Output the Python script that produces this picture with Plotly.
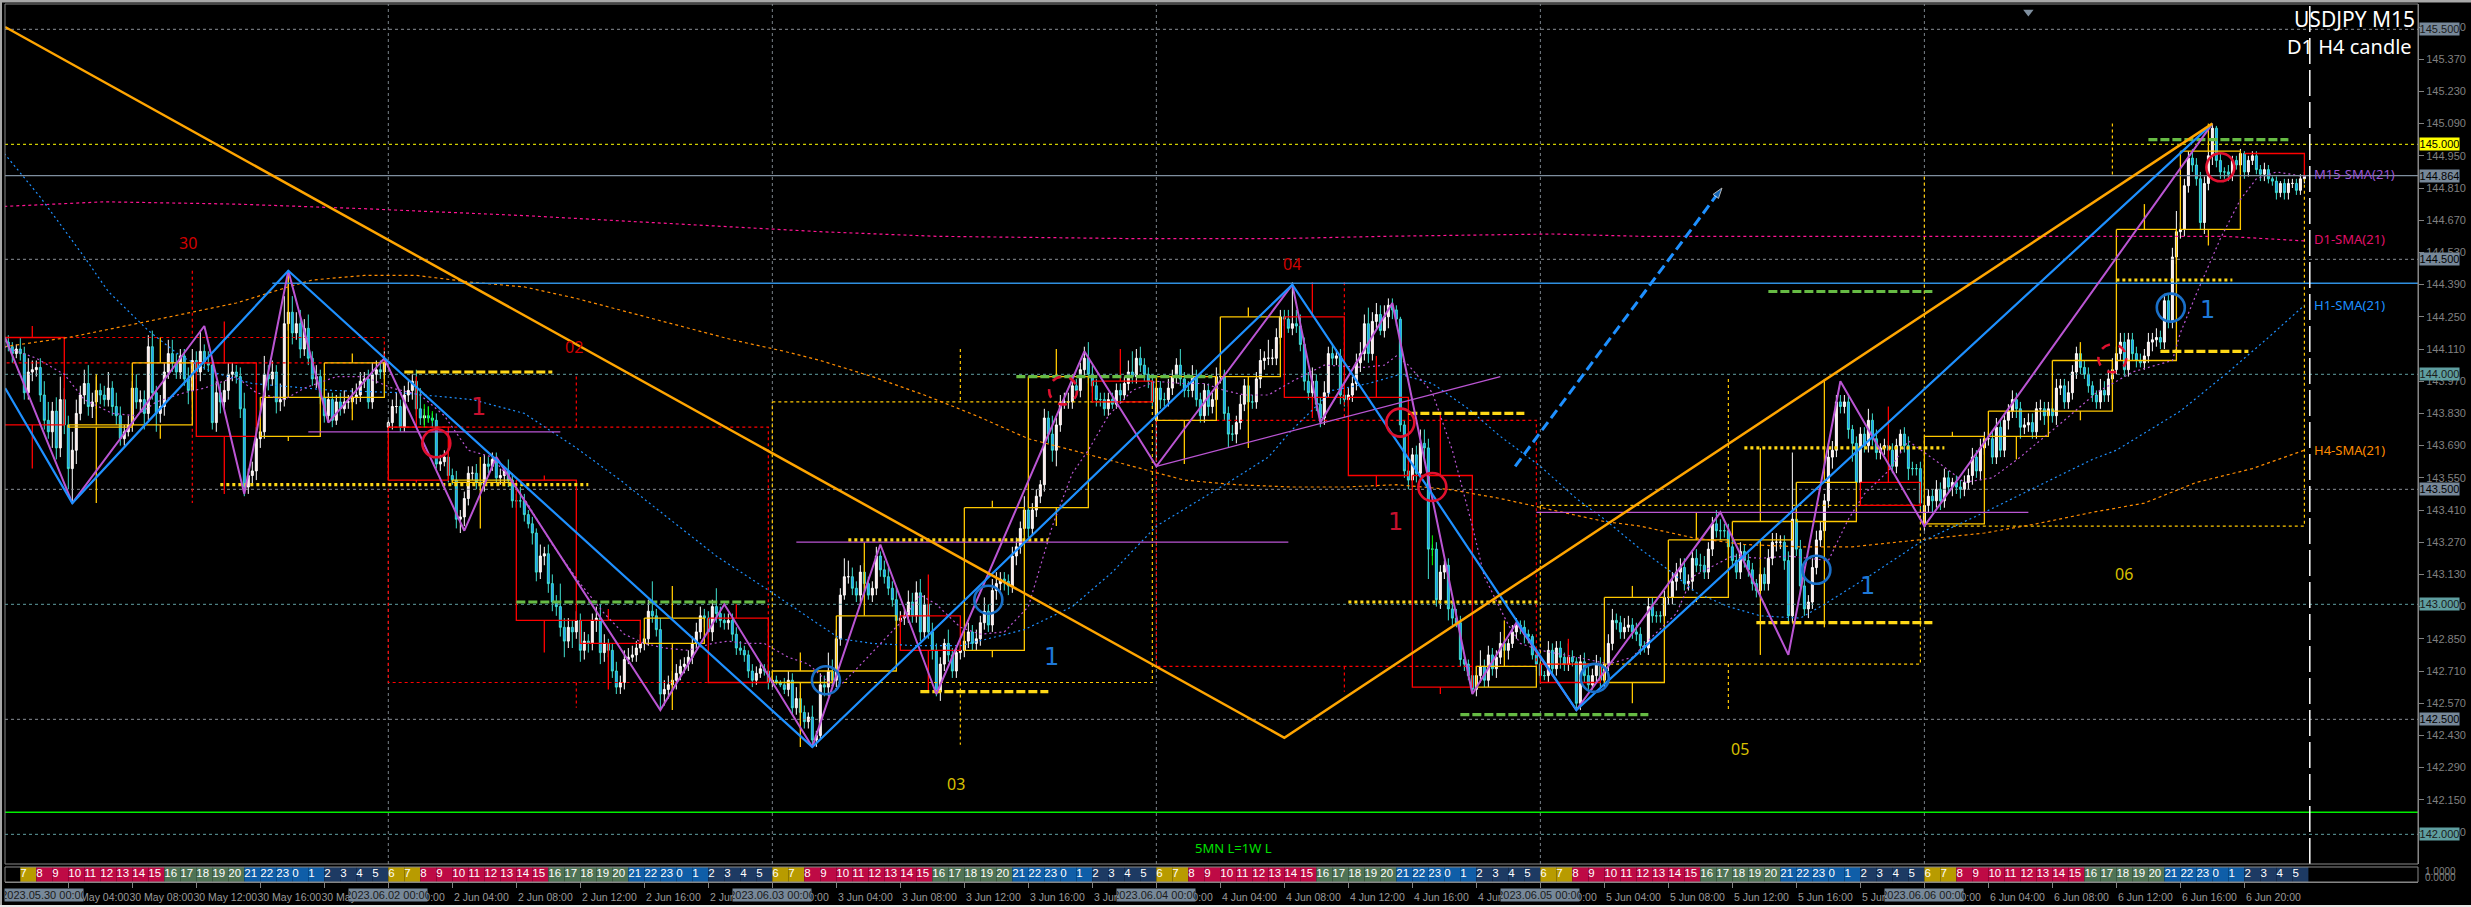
import plotly.graph_objects as go

# ---------- candle data (pips = price x 100) ----------
CLOSE_PIPS = [
14414,14412,14409,14411,14409,14392,14401,14402,14403,14391,14380,14375,14384,14368,14389,14378,
14359,14367,14383,14391,14396,14386,14388,14393,14391,14389,14394,14386,14382,14372,14375,14378,
14394,14388,14389,14383,14412,14392,14383,14386,14401,14409,14405,14401,14408,14398,14393,14406,
14401,14410,14405,14404,14379,14392,14388,14393,14400,14401,14399,14385,14351,14356,14358,14372,
14375,14400,14398,14401,14388,14389,14422,14427,14418,14422,14411,14420,14407,14398,14399,14390,
14382,14389,14380,14388,14385,14388,14388,14390,14391,14397,14398,14388,14400,14402,14401,14405,
14379,14386,14386,14377,14391,14393,14397,14385,14381,14382,14381,14380,14361,14362,14364,14356,
14354,14337,14338,14346,14357,14357,14353,14352,14361,14360,14363,14355,14356,14358,14354,14345,
14345,14345,14339,14335,14331,14314,14321,14322,14309,14301,14299,14290,14284,14290,14288,14293,
14280,14284,14283,14293,14294,14279,14283,14280,14271,14264,14266,14276,14277,14278,14281,14283,
14285,14297,14295,14289,14261,14263,14265,14267,14270,14273,14274,14277,14283,14288,14295,14294,
14288,14299,14296,14293,14292,14293,14287,14281,14280,14278,14271,14267,14270,14272,14271,14266,
14267,14266,14265,14263,14267,14255,14259,14253,14249,14251,14241,14243,14265,14264,14271,14267,
14285,14304,14312,14312,14307,14304,14314,14309,14304,14307,14321,14315,14312,14307,14302,14293,
14294,14295,14301,14295,14305,14288,14300,14288,14280,14262,14274,14283,14278,14271,14279,14280,
14284,14288,14283,14285,14292,14297,14291,14306,14309,14311,14310,14308,14321,14325,14333,14341,
14333,14341,14347,14352,14381,14374,14367,14378,14388,14388,14388,14395,14393,14402,14407,14400,
14395,14389,14389,14385,14389,14387,14393,14391,14396,14401,14399,14407,14404,14400,14397,14388,
14394,14389,14389,14394,14399,14404,14398,14393,14393,14399,14389,14382,14393,14386,14389,14399,
14399,14383,14374,14374,14379,14387,14395,14388,14388,14398,14406,14407,14407,14407,14416,14425,
14424,14420,14422,14421,14413,14397,14392,14397,14387,14381,14392,14409,14407,14408,14391,14389,
14391,14396,14405,14409,14422,14409,14423,14426,14419,14425,14430,14428,14424,14378,14358,14354,
14365,14357,14370,14368,14324,14324,14302,14314,14317,14298,14294,14292,14276,14274,14269,14263,
14269,14273,14267,14278,14272,14277,14283,14280,14283,14288,14291,14290,14287,14286,14278,14274,
14269,14269,14280,14272,14281,14277,14274,14277,14275,14257,14275,14269,14265,14269,14274,14267,
14274,14283,14293,14292,14288,14290,14291,14288,14287,14282,14281,14299,14295,14295,14295,14303,
14303,14310,14314,14316,14309,14310,14320,14317,14317,14314,14324,14335,14332,14332,14332,14325,
14319,14314,14323,14319,14315,14309,14306,14313,14309,14320,14327,14327,14327,14319,14295,14337,
14324,14308,14298,14301,14316,14328,14332,14345,14364,14367,14388,14386,14388,14376,14370,14353,
14374,14369,14380,14372,14366,14368,14369,14367,14360,14369,14374,14369,14359,14359,14359,14344,
14343,14347,14345,14350,14345,14355,14351,14353,14351,14350,14353,14356,14364,14358,14368,14372,
14372,14364,14377,14367,14380,14384,14389,14385,14377,14378,14379,14375,14385,14385,14382,14385,
14382,14394,14395,14388,14392,14401,14409,14403,14400,14395,14391,14388,14393,14391,14398,14402,
14409,14414,14402,14415,14409,14406,14405,14408,14414,14415,14416,14414,14432,14423,14451,14462,
14463,14482,14494,14491,14485,14466,14483,14495,14507,14493,14488,14488,14487,14493,14491,14496,
14488,14493,14495,14489,14487,14489,14485,14484,14479,14483,14479,14483,14483,14480,14485,14486]
OPEN_GAPS = {0: 14416, 96: 14377, 288: 14380, 480: 14335}
UPPER_WICK = [
2,3,2,2,5,3,6,4,3,4,6,8,4,6,10,5, 4,8,6,4,6,8,4,6,3,4,7,3,6,4,3,4,
3,6,4,4,5,7,3,5,4,6,6,4,3,3,5,5, 4,9,3,5,3,5,4,4,5,4,3,4,7,3,4,5,
4,8,4,5,3,7,12,18,7,5,6,4,6,3,5,3, 4,3,3,3,4,5,3,4,5,4,3,4,5,4,4,5,
1,3,6,3,4,4,3,5,9,3,4,2,3,3,3,4, 3,4,3,3,3,3,4,4,4,3,3,3,3,2,5,3,
3,6,3,2,3,2,5,3,4,4,3,10,4,4,3,4, 3,4,3,3,5,6,4,2,3,4,3,4,4,4,3,4,
4,5,13,3,5,4,4,4,4,3,3,3,3,4,4,3, 3,3,8,3,3,3,3,3,3,2,2,3,3,2,2,3,
2,2,1,3,4,3,5,3,3,2,5,2,5,4,8,5, 4,3,8,7,4,3,3,4,3,3,4,2,4,4,3,6,
3,3,5,4,5,6,4,3,4,3,3,2,6,3,2,3, 3,4,3,4,3,6,3,5,5,3,3,3,4,4,3,6,
4,3,3,2,4,3,8,3,3,4,4,5,3,3,5,7, 4,3,3,3,3,3,3,3,3,5,9,4,5,3,3,3,
1,3,3,4,3,3,7,3,4,5,3,3,3,3,3,4, 6,3,3,4,3,4,3,3,3,3,5,3,8,4,4,3,
3,4,18,6,5,3,4,6,3,3,5,3,4,3,3,3, 3,3,4,5,4,7,4,5,4,5,3,3,2,1,2,3,
3,4,6,6,4,2,3,3,2,3,3,4,3,2,2,2, 4,7,3,4,3,3,5,3,2,3,3,2,3,2,1,2,
2,2,4,3,3,3,2,6,3,2,3,4,4,3,4,3, 2,4,5,3,3,4,4,3,4,3,2,4,4,2,2,3,
3,4,4,4,4,3,3,4,5,4,3,3,6,5,3,3, 3,3,4,3,3,3,2,3,3,4,4,4,3,3,4,29,
16,4,5,3,4,4,4,3,6,4,3,3,3,3,2,3, 3,3,5,3,4,2,3,2,3,3,2,3,4,3,2,3,
1,3,3,4,3,4,3,2,3,3,3,3,4,3,4,3, 3,3,4,3,3,3,4,3,3,3,4,4,3,4,3,3,
3,4,3,3,5,3,3,4,3,3,2,2,5,4,4,5, 3,4,4,3,3,3,3,3,4,3,4,3,3,3,4,9,
3,3,3,4,3,3,3,4,2,1,3,2,3,2,2,2, 1,2,2,2,2,3,2,1,2,1,2,2,2,2,2,2]
LOWER_WICK = [
3,2,4,2,3,3,3,4,3,3,4,3,7,5,4,4, 9,15,6,3,4,4,5,3,4,3,3,4,4,3,3,2,
3,3,4,7,3,3,8,4,4,3,4,3,3,3,6,4, 3,4,3,3,3,4,5,3,4,3,3,4,4,3,4,4,
4,3,5,3,5,4,3,3,5,3,4,3,3,3,4,3, 3,3,3,2,3,2,3,3,3,3,3,3,3,4,3,3,
3,3,3,2,2,3,4,3,3,3,2,3,2,3,2,3, 2,4,6,4,3,3,3,2,3,3,2,2,3,3,3,3,
3,3,3,2,5,4,3,4,4,4,4,4,7,3,7,3, 5,4,4,3,5,5,4,3,3,3,3,3,2,2,3,2,
3,3,3,3,7,5,4,4,4,3,3,3,3,2,3,4, 3,4,4,3,3,3,3,3,2,3,3,3,2,2,2,3,
2,1,1,2,3,3,3,3,3,3,3,3,2,4,4,3, 3,3,2,3,3,3,3,3,2,3,3,3,3,3,3,3,
3,3,3,3,3,4,3,3,4,2,4,3,3,3,3,3, 3,3,3,3,3,3,3,3,4,3,4,4,3,4,3,3,
4,3,3,3,3,4,5,7,3,3,3,3,3,3,3,4, 3,3,3,3,3,2,2,3,2,3,3,3,3,3,3,3,
18,4,3,3,3,3,3,3,3,3,3,3,3,4,3,3, 3,3,6,3,4,3,3,3,3,3,4,4,3,3,3,3,
3,2,3,3,3,4,3,2,3,4,3,2,3,3,4,3, 3,3,3,4,3,4,3,3,2,3,5,4,3,3,3,4,
3,4,3,4,13,3,3,4,3,5,3,2,3,3,2,2, 3,3,3,3,3,4,3,3,4,2,3,3,4,3,2,3,
3,2,3,3,3,5,3,3,2,3,3,3,3,2,3,3, 3,3,3,3,3,3,2,3,3,4,2,3,3,3,3,3,
3,3,4,3,3,3,4,3,3,3,3,3,3,4,3,3, 3,3,3,3,3,3,3,3,3,3,3,4,3,4,3,3,
3,3,3,4,3,3,3,3,3,5,3,3,3,4,8,3, 3,3,3,3,3,3,3,3,3,3,3,3,5,3,3,3,
3,3,5,3,4,3,3,4,3,4,3,3,4,3,4,3, 3,3,3,3,3,4,3,4,5,3,3,3,3,5,4,3,
3,4,3,3,3,3,3,3,2,3,3,3,3,3,3,3, 2,3,3,3,3,3,2,3,3,4,3,3,3,3,3,3,
3,3,3,3,3,3,5,3,4,3,3,3,3,3,2,3, 3,2,2,2,3,3,2,2,3,2,3,3,2,2,2,2]

# ---------- zigzags and trend line (bar, pips) ----------
ORANGE_BAR = [0.2, 320, 552]
ORANGE_PIP = [14551, 14242, 14509]
BLUE_BAR = [0.2, 17, 71, 202, 322, 393, 552]
BLUE_PIP = [14394, 14344, 14445, 14238, 14439, 14254, 14509]
PURPLE_BAR = [0.2,17,50,60,71,81,95,115,123,164,180,202,219,233,270,288,322,329,347,367,378,393,429,446,459,480,552]
PURPLE_PIP = [14416,14344,14421,14348,14445,14379,14407,14332,14364,14254,14300,14238,14326,14261,14410,14360,14439,14379,14431,14261,14292,14254,14340,14278,14397,14334,14509]

# ---------- moving averages (bar, pips) ----------
M15_BAR = [0,8,15,20,27,33,38,45,50,58,63,70,75,83,90,97,104,110,116,122,130,137,144,150,155,160,165,171,177,181,185,190,196,201,208,212,218,224,229,233,239,244,250,256,262,267,271,276,282,288,294,300,305,310,316,322,330,340,345,348,351,357,362,367,370,376,379,384,390,396,401,407,412,418,422,432,439,446,456,461,465,471,476,484,490,497,504,506,515,523,532,542,544,548,554,559,563,568,575]
M15_PIP = [14412,14407,14400,14389,14383,14382,14388,14392,14394,14399,14392,14389,14394,14399,14399,14394,14391,14382,14367,14364,14346,14326,14309,14296,14287,14283,14281,14280,14283,14284,14283,14283,14277,14274,14263,14270,14281,14292,14304,14300,14290,14287,14288,14299,14334,14357,14367,14382,14393,14397,14396,14396,14393,14391,14391,14397,14404,14403,14404,14408,14404,14392,14367,14334,14312,14291,14283,14280,14278,14276,14274,14277,14286,14296,14312,14321,14320,14321,14319,14337,14348,14358,14371,14361,14353,14355,14364,14367,14380,14392,14401,14406,14418,14435,14459,14476,14485,14488,14486]
H1_BAR = [0,9,20,26,36,44,52,62,82,99,117,130,143,154,178,192,203,209,217,228,239,255,267,277,288,306,316,322,332,341,349,357,366,374,384,393,400,409,416,423,431,439,449,455,466,479,495,508,522,528,544,556,566,575]
H1_PIP = [14496,14477,14451,14436,14419,14408,14401,14396,14393,14392,14389,14383,14368,14354,14321,14305,14292,14285,14283,14282,14282,14289,14299,14314,14334,14353,14364,14376,14393,14396,14400,14396,14385,14373,14360,14346,14337,14324,14315,14305,14299,14295,14294,14300,14312,14327,14340,14351,14363,14367,14384,14401,14416,14430]
H4_BAR = [0,16,33,47,58,71,77,90,103,117,130,143,156,169,182,195,204,217,230,243,256,267,282,295,308,322,335,348,361,374,387,400,409,422,435,449,462,479,495,508,522,535,548,562,575]
H4_PIP = [14412,14416,14422,14427,14431,14438,14441,14443,14443,14440,14438,14433,14427,14421,14415,14410,14406,14399,14391,14382,14372,14367,14360,14354,14352,14351,14351,14352,14350,14346,14341,14336,14334,14329,14326,14325,14325,14328,14331,14335,14340,14344,14353,14359,14367]
D1_BAR = [0,12,25,58,90,130,162,204,233,282,319,345,387,409,489,528,555,575]
D1_PIP = [14473,14474,14475,14474,14472,14469,14466,14462,14460,14459,14459,14460,14461,14460,14460,14460,14460,14458]

# ---------- candle boxes: bar_start, bar_end, top, bottom, wick_bar, wick_high, wick_low ----------
H4_RED = [
(0,15,14416,14378,7,14421,14359),(48,63,14405,14373,55,14423,14348),(96,111,14377,14354,103,14399,14353),
(128,143,14354,14293,135,14356,14279),(144,159,14293,14283,151,14298,14263),(176,191,14294,14266,183,14300,14266),
(224,239,14295,14280,231,14313,14262),(272,287,14397,14388,279,14411,14388),(320,335,14425,14390,327,14440,14381),
(336,351,14390,14356,343,14408,14351),(352,367,14356,14264,359,14383,14261),(384,399,14274,14266,391,14285,14266),
(464,479,14353,14343,471,14386,14343)]
H4_YELLOW = [
(16,32,14378,14377,23,14400,14344),(32,47,14405,14378,39,14416,14372),(64,79,14390,14373,71,14445,14371),
(80,95,14405,14390,87,14409,14380),(112,127,14354,14353,119,14364,14333),(160,175,14294,14283,167,14308,14254),
(192,207,14271,14266,199,14279,14238),(208,223,14295,14271,215,14327,14271),(240,255,14342,14280,247,14345,14277),
(256,271,14399,14342,263,14411,14334),(288,303,14399,14380,295,14399,14361),(304,319,14425,14399,311,14429,14368),
(368,383,14273,14264,375,14293,14264),(400,415,14303,14266,407,14308,14257),(416,431,14328,14303,423,14340,14301),
(432,447,14336,14328,439,14368,14278),(448,463,14353,14336,455,14398,14290),(480,495,14373,14335,487,14375,14335),
(496,511,14384,14373,503,14384,14363),(512,527,14406,14384,519,14414,14380),(528,543,14463,14406,535,14474,14406),
(544,559,14497,14463,551,14509,14456)]
D1_RED = [(0,95,14416,14405,47,14445,14344),(96,191,14377,14266,143,14399,14255),(288,383,14380,14273,335,14440,14262)]
D1_YELLOW = [(192,287,14388,14266,239,14411,14239),(384,479,14343,14274,431,14398,14254)]
# the last day and last 4-hour candle are still forming: no closed top / bottom side
D1_LAST = (480,575,14486,14334,527,14509)
H4_LAST = (560,575,14496,14486)

# ---------- horizontal levels ----------
LEVEL_GRAY = [145.5, 144.5, 143.5, 142.5]
LEVEL_TEAL = [144.0, 143.0, 142.0]
LEVEL_YELLOW = 145.0
LEVEL_BID = 144.864
LEVEL_GREEN = 142.096
LEVEL_BLUE = (67, 144.396)
# thick support / resistance marks: bar_start, bar_end, pips
THICK_YELLOW_DASH = [(100,137,14401),(229,261,14262),(351,380,14383),(438,482,14292),(539,561,14410)]
THICK_YELLOW_DOT = [(54,146,14352),(211,261,14328),(336,384,14301),(435,485,14368),(528,557,14441)]
THICK_GREEN = [(128,191,14301),(253,302,14399),(364,411,14252),(441,482,14436),(536,571,14502)]
PURPLE_SEGMENTS = [(76,139,14375,14375),(198,321,14327,14327),(288,374,14360,14399),(383,506,14340,14340)]
DAY_BARS = [96,192,288,384,480]
END_BAR = 576.35
ARROW_BAR = [377.7, 429.4]
ARROW_PIP = [14360, 14481]
CIRCLES_RED = [(108,14370,False),(264.7,14393,True),(349,14379,False),(357,14351,False),(527,14407,True),(554,14490,False)]
CIRCLES_BLUE = [(205.4,14267,False),(246,14302,False),(397.6,14268,False),(453,14315,False),(541.6,14429,False)]
GREEN_WICKS = [(105,14387,14377),(106,14386,14379),(107,14384,14379),(357,14330,14317)]

# ---------- texts ----------
Y_TICKS = [145.51,145.37,145.23,145.09,144.95,144.81,144.67,144.53,144.39,144.25,144.11,143.97,143.83,143.69,143.55,143.41,143.27,143.13,142.99,142.85,142.71,142.57,142.43,142.29,142.15,142.01]
DAYS = ["30 May","2 Jun","3 Jun","4 Jun","5 Jun","6 Jun"]
TICK_HOURS = ["00:00","04:00","08:00","12:00","16:00","20:00"]
DATE_TAGS = ["2023.05.30 00:00","2023.06.02 00:00","2023.06.03 00:00","2023.06.04 00:00","2023.06.05 00:00","2023.06.06 00:00"]
HOURS_OF_DAY = [6,7,8,9,10,11,12,13,14,15,16,17,18,19,20,21,22,23,0,1,2,3,4,5]
DAY_COUNT = 6
HOUR_COLOR = {6:"#b89b00",7:"#b89b00",8:"#be0a45",9:"#be0a45",10:"#be0a45",11:"#be0a45",12:"#be0a45",13:"#be0a45",14:"#be0a45",15:"#be0a45",
              16:"#4f7355",17:"#4f7355",18:"#4f7355",19:"#4f7355",20:"#4f7355",21:"#0f5ea8",22:"#0f5ea8",23:"#0f5ea8",0:"#0f5ea8",1:"#0f5ea8",
              2:"#1d3a63",3:"#1d3a63",4:"#1d3a63",5:"#1d3a63"}

W, H = 2471, 907
FONT = "Noto Sans"
NARROW = "Liberation Sans Narrow, Liberation Sans"
RED, GOLD = "#ff0000", "#ffc800"
YTOP, YBOT = 145.61, 141.871
XL, XR = 0.175, 603.4
p = lambda v: v / 100.0
px = lambda x: x / W
py = lambda y: 1 - y / H

fig = go.Figure()

def line(x, y, color, width=1, dash="solid", yaxis="y", **kw):
    fig.add_trace(go.Scatter(x=x, y=y, mode="lines", yaxis=yaxis, hoverinfo="skip", showlegend=False,
                             line=dict(color=color, width=width, dash=dash), **kw))

# grid and levels
for lv in LEVEL_GRAY:
    line([XL, XR], [lv, lv], "#8a8f96", 1, "3px,3px")
for lv in LEVEL_TEAL:
    line([XL, XR], [lv, lv], "#5f9ea0", 1, "3px,3px")
line([XL, XR], [LEVEL_YELLOW]*2, "#ffff00", 1, "3px,3px")
for d in DAY_BARS:
    line([d, d], [YBOT, YTOP], "#7a828a", 1, "3px,3px")

def box_paths(boxes):
    xs, ys = [], []
    for b0, b1, top, bot, wb, wh, wl in boxes:
        xs += [b0, b1, b1, b0, b0, None, wb, wb, None, wb, wb, None]
        ys += [p(top), p(top), p(bot), p(bot), p(top), None, p(wh), p(top), None, p(bot), p(wl), None]
    return xs, ys

for boxes, c, w, d in [(D1_RED, RED, 1.2, "3px,3px"), (D1_YELLOW, GOLD, 1.2, "3px,3px"),
                       (H4_RED, RED, 1.3, "solid"), (H4_YELLOW, GOLD, 1.3, "solid")]:
    xs, ys = box_paths(boxes)
    line(xs, ys, c, w, d)
# forming candles
b0, b1, top, bot, wb, wh = D1_LAST
line([b0, b0, b1, b1, None, wb, wb], [p(top), p(bot), p(bot), p(top), None, p(wh), p(top)], GOLD, 1.2, "3px,3px")
b0, b1, top, bot = H4_LAST
line([b0, b1, b1], [p(top), p(top), p(bot)], RED, 1.3)

# moving averages
line(H4_BAR, [p(v) for v in H4_PIP], "#ff8c00", 1.2, "3px,3px")
line(D1_BAR, [p(v) for v in D1_PIP], "#ff1493", 1.2, "3px,3px")
line(H1_BAR, [p(v) for v in H1_PIP], "#1e90ff", 1.2, "2px,3px")
line(M15_BAR, [p(v) for v in M15_PIP], "#ba55d3", 1.2, "2px,3px")

# candles
bars = list(range(len(CLOSE_PIPS)))
opens = [OPEN_GAPS.get(i, CLOSE_PIPS[i-1] if i else CLOSE_PIPS[0]) for i in bars]
highs = [max(o, c) + u for o, c, u in zip(opens, CLOSE_PIPS, UPPER_WICK)]
lows = [min(o, c) - l for o, c, l in zip(opens, CLOSE_PIPS, LOWER_WICK)]
fig.add_trace(go.Candlestick(x=bars, open=[p(v) for v in opens], high=[p(v) for v in highs],
                             low=[p(v) for v in lows], close=[p(v) for v in CLOSE_PIPS],
                             increasing=dict(line=dict(color="#ffffff", width=1), fillcolor="#ffe4e1"),
                             decreasing=dict(line=dict(color="#40e0d0", width=1), fillcolor="#1e90ff"),
                             whiskerwidth=0, showlegend=False, hoverinfo="skip"))
gx, gy = [], []
for b, hi, lo in GREEN_WICKS:
    gx += [b, b, None]; gy += [p(hi), p(lo), None]
line(gx, gy, "#00ff00", 1)

# horizontal price lines
line([XL, XR], [LEVEL_BID]*2, "#7f8f9f", 1.3)
line([LEVEL_BLUE[0], XR], [LEVEL_BLUE[1]]*2, "#2f8fe0", 1.3)
line([XL, XR], [LEVEL_GREEN]*2, "#00ee00", 1.5)

# purple thin segments
xs, ys = [], []
for b0, b1, v0, v1 in PURPLE_SEGMENTS:
    xs += [b0, b1, None]; ys += [p(v0), p(v1), None]
line(xs, ys, "#ba55d3", 1.3)

# thick marks
def thick(marks, color, dash):
    xs, ys = [], []
    for b0, b1, v in marks:
        xs += [b0, b1, None]; ys += [p(v), p(v), None]
    line(xs, ys, color, 3.2, dash)
thick(THICK_GREEN, "#66bb44", "9px,3px")
thick(THICK_YELLOW_DASH, "#ffd816", "9px,3px")
thick(THICK_YELLOW_DOT, "#ffd816", "3px,3px")

# zigzags
line(PURPLE_BAR, [p(v) for v in PURPLE_PIP], "#ba55d3", 2)
line(BLUE_BAR, [p(v) for v in BLUE_PIP], "#1e90ff", 2.2)
line(ORANGE_BAR, [p(v) for v in ORANGE_PIP], "#ffa500", 2.5)

# arrow
fig.add_trace(go.Scatter(x=ARROW_BAR, y=[p(v) for v in ARROW_PIP], mode="lines+markers", hoverinfo="skip", showlegend=False,
                         line=dict(color="#1e90ff", width=3, dash="10px,5px"),
                         marker=dict(symbol="arrow", size=[0, 11], angleref="previous", color="#1e90ff")))
# end-of-data marker
line([END_BAR, END_BAR], [YBOT, YTOP], "#ffffff", 1.5, "26px,6px")
# shift marker
fig.add_trace(go.Scatter(x=[506], y=[145.575], mode="markers", hoverinfo="skip", showlegend=False,
                         marker=dict(symbol="triangle-down", size=9, color="#7f8f9f")))

# hour strip
hours = [h for _ in range(DAY_COUNT) for h in HOURS_OF_DAY]
starts = [i*4 for i in range(len(hours))]
colors = ["#000000"] + [HOUR_COLOR[h] for h in hours[1:]]
fig.add_trace(go.Bar(x=[s+2 for s in starts], y=[1]*len(hours), width=[4]*len(hours), marker=dict(color=colors, line=dict(width=0)),
                     yaxis="y2", hoverinfo="skip", showlegend=False))
fig.add_trace(go.Scatter(x=starts[1:], y=[0.5]*(len(hours)-1), mode="text", text=[str(h) for h in hours[1:]], textposition="middle right",
                         textfont=dict(color="#ffffff", size=11.5, family=NARROW), yaxis="y2", hoverinfo="skip", showlegend=False))

shapes = []
for lst, c in [(CIRCLES_RED, "#e0102f"), (CIRCLES_BLUE, "#1a70c8")]:
    for b, v, dashed in lst:
        shapes.append(dict(type="circle", xref="x", yref="y", xsizemode="pixel", ysizemode="pixel", xanchor=b, yanchor=p(v),
                           x0=-14, x1=14, y0=-14, y1=14, line=dict(color=c, width=2.6, dash="dash" if dashed else "solid")))
# window frame
frame = "#8a8a8a"
shapes += [
    dict(type="rect", xref="paper", yref="paper", x0=0, x1=1, y0=py(2.5), y1=1, fillcolor="#a8a8a8", line_width=0),
    dict(type="rect", xref="paper", yref="paper", x0=0, x1=px(2), y0=0, y1=1, fillcolor="#a8a8a8", line_width=0),
    dict(type="rect", xref="paper", yref="paper", x0=0, x1=1, y0=0, y1=py(905), fillcolor="#e8e8e8", line_width=0),
    dict(type="rect", xref="paper", yref="paper", x0=px(5), x1=px(2418), y0=py(864), y1=py(4), line=dict(color=frame, width=1)),
    dict(type="rect", xref="paper", yref="paper", x0=px(5), x1=px(2418), y0=py(882), y1=py(867), line=dict(color=frame, width=1)),
]

ann = []
def text(s, bar, pips, color, size, family=FONT, **kw):
    ann.append(dict(text=s, x=bar, y=p(pips), xref="x", yref="y", showarrow=False, font=dict(color=color, size=size, family=family), **kw))
for s, b, v in [("30", 46, 14457), ("02", 142.5, 14412), ("04", 322, 14448)]:
    text(s, b, v, "#d00000", 16)
for s, b, v in [("03", 238, 14222), ("05", 434, 14237), ("06", 530, 14313)]:
    text(s, b, v, "#d8c000", 16)
for b, v in [(118.5, 14386), (347.7, 14336)]:
    text("1", b, v, "#c8102e", 24, "DejaVu Sans")
for b, v in [(261.7, 14277), (465.9, 14308), (550.7, 14428)]:
    text("1", b, v, "#1e78d8", 24, "DejaVu Sans")
text("5MN L=1W L", 307.4, 14194, "#00e000", 13)
for s, v, c in [("M15-SMA(21)", 14487, "#9a55d3"), ("D1-SMA(21)", 14459, "#e0106a"), ("H1-SMA(21)", 14430, "#1e90ff"), ("H4-SMA(21)", 14367, "#ff8c00")]:
    text(s, 577, v, c, 13, xanchor="left")
ann.append(dict(text="USDJPY M15", x=px(2417), y=py(19), xref="paper", yref="paper", xanchor="right", yanchor="middle", showarrow=False, font=dict(color="#ffffff", size=21, family=FONT)))
ann.append(dict(text="D1 H4 candle", x=px(2414), y=py(47), xref="paper", yref="paper", xanchor="right", yanchor="middle", showarrow=False, font=dict(color="#ffffff", size=20, family=FONT)))
# price tags
for lv, bg, fg in [(145.5, "#778899", "#1a1a1a"), (145.0, "#ffff00", "#000000"), (LEVEL_BID, "#778899", "#000000"), (144.5, "#778899", "#000000"),
                   (144.0, "#5f9ea0", "#1a1a1a"), (143.5, "#778899", "#000000"), (143.0, "#5f9ea0", "#1a1a1a"), (142.5, "#778899", "#000000"), (142.0, "#5f9ea0", "#1a1a1a")]:
    ann.append(dict(text=f"{lv:.3f}", x=px(2419), y=lv, xref="paper", yref="y", xanchor="left", yanchor="middle", showarrow=False, width=39, height=12, borderpad=0,
                    bgcolor=bg, align="center", font=dict(color=fg, size=11, family=NARROW)))
# date tags
for i, s in enumerate(DATE_TAGS):
    cx = 44 if i == 0 else 4.3 + 4*96*i
    ann.append(dict(text=s, x=px(cx), y=py(894.5), xref="paper", yref="paper", xanchor="center", yanchor="middle", showarrow=False, width=78, height=12, borderpad=0, bgcolor="#778899",
                    font=dict(color="#1a1a1a", size=11, family=NARROW)))
for s, y in [("1.0000", 871), ("0.0000", 877)]:
    ann.append(dict(text=s, x=px(2423), y=py(y), xref="paper", yref="paper", xanchor="left", yanchor="middle", showarrow=False, font=dict(color="#808080", size=10, family=NARROW)))

x_ticks = [16*i for i in range(len(DAYS)*len(TICK_HOURS))]
x_text = [f"{d} {h}" for d in DAYS for h in TICK_HOURS]

fig.update_layout(
    width=W, height=H, margin=dict(l=0, r=0, t=0, b=0), paper_bgcolor="#000000", plot_bgcolor="#000000",
    showlegend=False, dragmode=False, shapes=shapes, annotations=ann, barmode="overlay",
    xaxis=dict(domain=[px(5), px(2418)], range=[XL, XR], anchor="y2", showgrid=False, zeroline=False, rangeslider=dict(visible=False),
               tickmode="array", tickvals=x_ticks, ticktext=x_text, ticks="outside", ticklen=5, tickcolor="#808080", showline=True, linecolor="#808080",
               tickfont=dict(color="#9a9a9a", size=10.5, family=NARROW), ticklabelshift=29, tickangle=0),
    yaxis=dict(domain=[(H-864)/H, (H-4)/H], range=[YBOT, YTOP], side="right", anchor="x", showgrid=False, zeroline=False,
               tickmode="array", tickvals=Y_TICKS, ticktext=[f"{v:.3f}" for v in Y_TICKS], ticks="outside", ticklen=5, tickcolor="#808080",
               tickfont=dict(color="#808080", size=11, family=NARROW), showline=True, linecolor="#808080"),
    yaxis2=dict(domain=[(H-882)/H, (H-867)/H], range=[0, 1], anchor="x", showgrid=False, zeroline=False, showticklabels=False, ticks=""),
)

fig.write_html("out.html", config=dict(displayModeBar=False),
               post_script="document.body.style.margin='0';document.body.style.background='#000';")
